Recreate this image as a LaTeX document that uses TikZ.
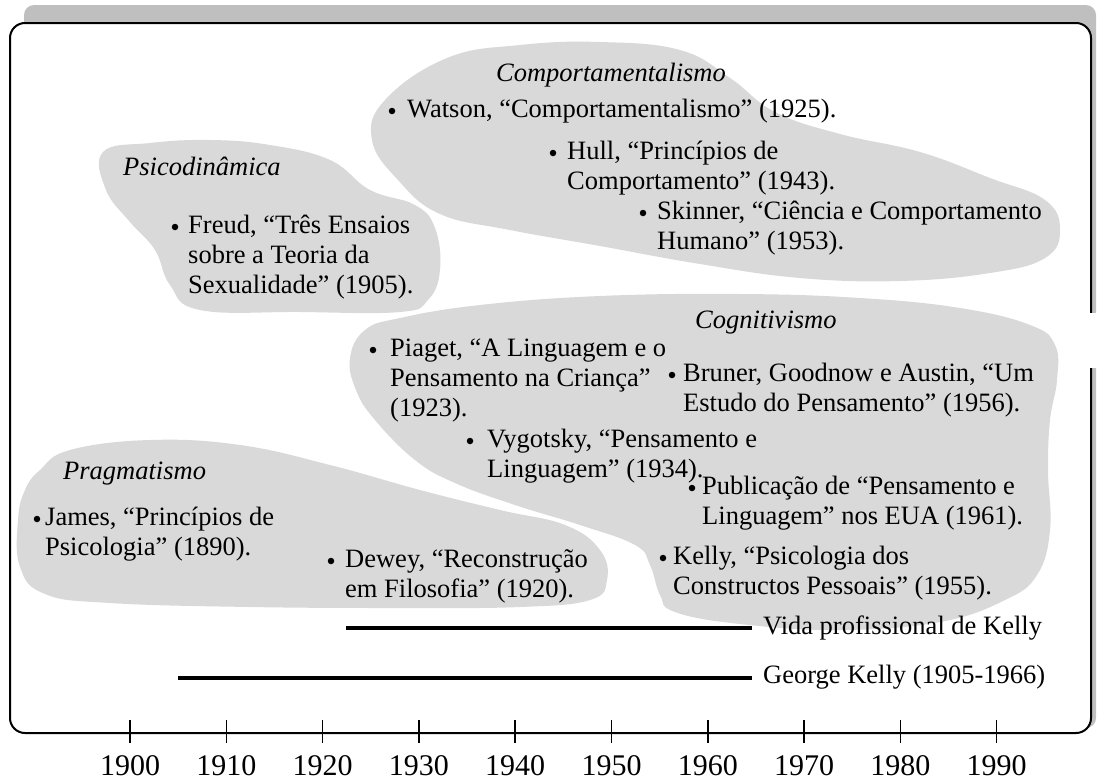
\documentclass[tikz,border=0pt]{standalone}
\usepackage{fontspec}
\setmainfont{Liberation Serif}
\newcommand\bodyfont{\fontsize{26.5}{30}\selectfont}
\newcommand\axisfont{\fontsize{30}{34}\selectfont}
\definecolor{blobgray}{gray}{0.85}
\definecolor{shadowgray}{gray}{0.75}
\begin{document}
\begin{tikzpicture}[x=1pt,y=-1pt,
  blob/.style={fill=blobgray, draw=none},
  txt/.style={anchor=north west, inner sep=0pt, align=left, font=\bodyfont},
  ttl/.style={anchor=base west, inner sep=0pt, font=\bodyfont\itshape},
  dot/.style={circle, fill=black, inner sep=0pt, minimum size=6.5pt},
  life/.style={line width=4pt},
  tickline/.style={line width=1.5pt},
  lbl/.style={anchor=base west, inner sep=0pt, font=\bodyfont},
  yr/.style={anchor=base, inner sep=0pt, font=\axisfont}]
\useasboundingbox (0,0) rectangle (1099,782);
% shadow and frame
\fill[shadowgray, rounded corners=10pt] (24,5) rectangle (1096,728);
\draw[line width=2pt, fill=white, rounded corners=15pt] (10,23) rectangle (1091,733);
\fill[white] (1086,313) rectangle (1099,368);
% blobs
\fill[blob] plot[smooth cycle, tension=0.7] coordinates {
 (447,58) (520,45) (600,42) (680,50) (730,78) (775,112) (840,134) (920,152)
 (990,178) (1045,200) (1060,230) (1045,258) (990,273) (900,281) (800,278)
 (700,264) (600,246) (510,230) (440,214) (398,180) (372,140) (385,100)};
\fill[blob] plot[smooth cycle, tension=0.7] coordinates {
 (103,152) (150,143) (210,140) (270,145) (330,160) (370,190) (415,205)
 (435,228) (440,270) (428,300) (400,312) (300,312) (200,310) (170,285)
 (155,250) (130,222) (106,190)};
\fill[blob] plot[smooth cycle, tension=0.7] coordinates {
 (350,358) (365,330) (400,318) (480,305) (600,296) (740,294) (860,298)
 (960,308) (1030,325) (1055,345) (1057,380) (1050,420) (1048,470) (1050,530)
 (1037,575) (1005,600) (940,622) (840,630) (740,624) (675,612) (660,595)
 (650,565) (635,545) (580,525) (515,505) (455,483) (415,460) (375,420) (356,390)};
\fill[blob] plot[smooth cycle, tension=0.7] coordinates {
 (40,470) (70,450) (150,440) (240,445) (330,465) (420,490) (500,510)
 (565,525) (600,550) (607,580) (590,600) (520,607) (400,608) (250,607)
 (110,603) (45,594) (20,567) (18,520) (25,490)};
% titles
\node[ttl, anchor=base] (tcomp) at (611,81) {Comportamentalismo};
\node[ttl] (tpsi) at (123,175) {Psicodinâmica};
\node[ttl] (tcog) at (695,328) {Cognitivismo};
\node[ttl] (tprag) at (63,479) {Pragmatismo};
% bullets and texts
\node[dot] (bwat) at (392,111) {};
\node[txt] (wat) at (407,96) {\strut Watson, “Comportamentalismo” (1925).};
\node[dot] (bhul) at (553,153) {};
\node[txt] (hul) at (567,138) {\strut Hull, “Princípios de\\Comportamento” (1943).};
\node[dot] (bski) at (643,213) {};
\node[txt] (ski) at (657,198) {\strut Skinner, “Ciência e Comportamento\\Humano” (1953).};
\node[dot] (bfre) at (175,227) {};
\node[txt] (fre) at (188,212) {\strut Freud, “Três Ensaios\\sobre a Teoria da\\Sexualidade” (1905).};
\node[dot] (bpia) at (373,350) {};
\node[txt] (pia) at (390,335) {\strut Piaget, “A Linguagem e o\\Pensamento na Criança”\\(1923).};
\node[dot] (bbru) at (672,375) {};
\node[txt] (bru) at (683,360) {\strut Bruner, Goodnow e Austin, “Um\\Estudo do Pensamento” (1956).};
\node[dot] (bvyg) at (470,441) {};
\node[txt] (vyg) at (487,426) {\strut Vygotsky, “Pensamento e\\Linguagem” (1934).};
\node[dot] (bpub) at (692,488) {};
\node[txt] (pub) at (702,473) {\strut Publicação de “Pensamento e\\Linguagem” nos EUA (1961).};
\node[dot] (bjam) at (37,519) {};
\node[txt] (jam) at (45,504) {\strut James, “Princípios de\\Psicologia” (1890).};
\node[dot] (bdew) at (331,561) {};
\node[txt] (dew) at (345,546) {\strut Dewey, “Reconstrução\\em Filosofia” (1920).};
\node[dot] (bkel) at (663,558) {};
\node[txt] (kel) at (673,543) {\strut Kelly, “Psicologia dos\\Constructos Pessoais” (1955).};
% life lines
\node[lbl] (vida) at (763,634) {Vida profissional de Kelly};
\node[lbl] (george) at (763,683) {George Kelly (1905-1966)};
\coordinate (vs) at (346,628);
\coordinate (ve) at (752,628);
\coordinate (gs) at (178,678);
\coordinate (ge) at (752,678);
\draw[life] (vs) -- (ve);
\draw[life] (gs) -- (ge);
% axis ticks and labels
\foreach \k/\yy in {0/1900,1/1910,2/1920,3/1930,4/1940,5/1950,6/1960,7/1970,8/1980,9/1990}{
  \coordinate (ta\k) at ({130+96.3*\k},720);
  \coordinate (tb\k) at ({130+96.3*\k},743);
  \draw[tickline] (ta\k) -- (tb\k);
  \node[yr] (y\k) at ({130+96.3*\k},775) {\yy};
}
\end{tikzpicture}
\end{document}
